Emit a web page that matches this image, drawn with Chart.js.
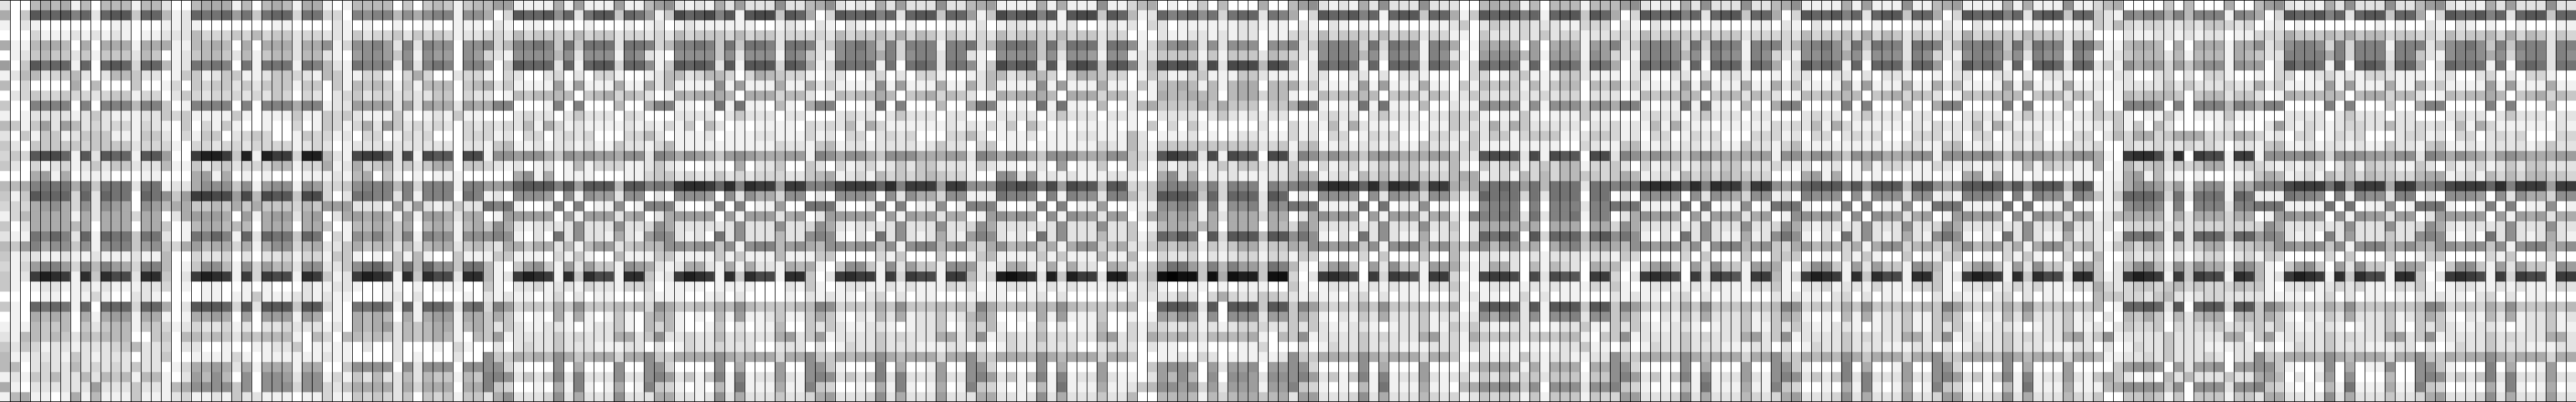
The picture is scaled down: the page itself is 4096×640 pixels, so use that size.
<!DOCTYPE html>
<html>
<head>
<meta charset="utf-8">
<style>
  html, body { margin: 0; padding: 0; background: #fff; overflow: hidden; }
  canvas { display: block; }
</style>
<script src="https://cdn.jsdelivr.net/npm/chart.js@4/dist/chart.umd.js"></script>
</head>
<body>
<canvas id="heat" width="4096" height="640"></canvas>
<script>
// cell values, one digit per cell (base 36, 0 = lightest),
// 40 rows in each block, 32 columns per block, spaces only to keep the columns readable
const block0 = [
"200 5656 1 5 0 555 1 55 200 5666 1 5 0 565 1 66",
"604 cbbc 9 b 2 bcc 4 bb 512 baab 7 a 4 abb 3 aa",
"102 1000 0 0 0 011 0 00 112 1000 0 0 0 011 0 00",
"000 3111 2 1 2 121 0 11 222 5333 4 3 5 344 2 33",
"611 5665 0 6 0 666 1 66 611 5565 0 6 0 666 2 66",
"012 4544 2 4 1 444 2 54 012 4554 2 5 1 455 2 55",
"704 cabb 1 b 0 bcb 3 bb 512 a9a9 0 a 1 aaa 1 a9",
"125 5234 5 2 0 255 4 22 014 4124 4 1 1 244 3 21",
"503 0000 6 0 5 000 4 00 130 4344 2 4 2 444 1 44",
"023 4334 3 3 2 344 1 33 024 3233 3 2 3 243 0 32",
"400 9999 0 9 0 999 5 99 401 9999 0 9 0 999 6 99",
"101 2222 1 2 4 211 1 22 434 1111 4 1 0 111 4 11",
"541 4727 5 2 3 233 1 32 104 0314 1 0 0 100 3 01",
"204 1441 2 4 4 411 1 44 203 1440 2 3 4 300 1 43",
"420 4444 4 3 4 444 2 33 310 3323 3 2 3 333 1 23",
"343 cddb 1 c 2 cbb 1 cc 700 egge 4 g 1 gee 3 gg",
"420 3123 1 2 4 244 2 22 511 4234 2 3 3 355 1 33",
"000 6716 0 1 1 100 0 11 000 6716 0 1 0 100 0 11",
"556 9aaa 6 a 4 aaa 2 aa 122 6888 4 8 1 788 1 87",
"414 cbbb 3 b 2 baa 0 ba 847 eedd 7 d 5 dcc 4 dd",
"333 6786 3 8 2 876 0 87 566 4454 6 4 6 444 3 54",
"135 6666 1 6 2 666 3 66 026 7776 0 7 1 677 2 67",
"402 6666 5 6 0 666 0 66 401 5665 5 5 0 666 0 66",
"211 a9b9 2 b 1 baa 4 aa 201 a9b9 1 b 2 baa 4 ba",
"547 9688 4 8 1 899 4 78 436 7566 3 6 1 688 3 56",
"412 2112 1 1 2 111 2 11 500 3223 0 2 0 223 1 33",
"313 7997 3 9 5 976 3 99 501 4885 1 8 3 755 2 88",
"412 egfe 1 f 4 fdd 2 ff 402 egfe 1 e 3 edd 1 fe",
"410 1221 1 2 1 211 1 22 301 0110 0 1 0 100 0 21",
"000 0110 1 1 3 100 2 21 000 0110 1 1 4 111 2 21",
"410 baba 1 b 0 bbb 3 bb 602 cccb 3 c 2 ccc 4 cc",
"010 6565 0 6 1 677 1 66 101 6676 0 7 0 777 1 76",
"111 5445 0 4 2 455 1 44 312 3223 1 2 0 223 2 22",
"215 5454 2 5 4 555 0 04 405 5454 2 5 4 555 1 05",
"424 3122 1 2 2 234 5 22 302 2001 0 0 1 122 4 01",
"511 2221 4 2 1 222 0 22 400 1111 3 1 0 111 1 11",
"550 2322 5 2 3 232 4 22 013 6676 2 6 1 666 1 66",
"121 4352 2 5 2 545 1 55 102 7585 0 8 0 887 2 88",
"610 2222 2 2 7 222 4 22 156 8888 4 8 0 888 3 88",
"156 1101 6 1 5 111 4 11 123 1121 4 2 2 111 0 11"
];
const block1 = [
"101 5555 0 4 0 454 1 45 577 1111 6 1 7 111 7 11",
"330 9899 5 8 6 899 1 88 603 cbbc 8 b 2 acc 4 ba",
"021 0100 1 0 0 100 1 11 021 0110 1 0 0 100 0 10",
"221 4233 4 2 4 343 1 22 332 5344 4 3 5 344 2 33",
"813 8897 2 9 2 988 0 88 935 99a9 4 a 4 aaa 2 aa",
"210 7887 4 8 1 877 0 87 321 8888 5 8 2 888 1 98",
"521 a999 1 9 2 9a9 0 99 704 cbbb 2 b 1 bcc 3 bb",
"541 1331 0 3 6 300 2 33 103 2002 3 0 2 033 1 00",
"041 5454 1 4 1 555 0 45 624 1111 7 1 7 111 6 11",
"023 4233 2 3 2 244 0 32 201 5455 5 5 0 456 3 54",
"122 7777 2 7 2 766 2 76 699 0001 9 0 9 000 5 00",
"434 2111 4 1 0 121 4 11 000 2322 0 2 4 222 0 32",
"431 3627 4 2 3 232 0 32 323 2516 3 1 2 111 1 21",
"312 0330 1 3 2 300 0 33 312 0330 2 3 2 300 0 33",
"201 2222 2 2 2 222 0 22 145 1121 2 2 1 211 4 22",
"521 deec 2 d 1 dcc 0 dd 188 7886 4 8 7 877 6 88",
"612 6345 2 4 2 466 0 44 321 2012 0 1 5 133 3 11",
"121 5604 1 0 1 011 1 00 000 6816 0 1 1 100 0 11",
"334 8999 5 9 3 999 1 99 778 bccc 9 c 7 ccc 5 cc",
"302 aa99 2 9 1 999 0 a9 120 8887 0 8 1 877 2 88",
"777 2221 7 2 7 212 4 22 a9a 1001 9 0 9 011 8 01",
"026 7676 1 7 1 776 2 66 017 7777 0 7 1 777 2 67",
"401 5565 4 6 0 565 1 56 486 2122 2 2 8 222 8 22",
"031 8796 4 9 1 988 1 88 898 1020 a 2 8 221 6 21",
"224 6455 2 5 2 566 2 45 326 6466 2 5 1 577 2 45",
"144 1010 4 1 5 100 4 11 144 1110 3 1 4 100 5 11",
"224 8ab8 4 a 5 b88 4 aa 510 4784 1 7 2 744 1 87",
"412 egfe 1 f 4 fdd 2 ff 512 egfe 1 f 4 fdd 1 ff",
"122 1001 1 0 1 011 1 00 410 2231 2 2 1 322 1 33",
"211 0001 2 0 2 000 0 10 212 1101 3 0 2 011 0 00",
"310 aaba 1 b 1 bba 2 ab 397 3443 6 4 8 444 5 45",
"010 6565 0 6 1 677 1 66 464 1010 6 1 6 101 4 10",
"120 6567 2 5 4 566 1 56 424 2112 2 1 0 122 4 10",
"305 5454 2 5 4 565 1 05 471 2222 4 2 3 222 6 62",
"111 0200 2 0 0 010 3 10 020 2322 4 2 2 211 1 22",
"211 0000 2 0 1 000 2 00 844 6565 8 6 4 566 3 66",
"004 8888 0 8 2 888 0 88 883 1000 8 0 6 000 8 00",
"131 4252 2 5 2 544 1 54 998 2424 9 2 9 222 8 22",
"324 6666 2 6 3 666 0 66 943 0010 6 1 9 101 6 01",
"311 4343 2 4 0 434 1 44 268 2223 8 2 6 222 8 22"
];
const block2 = [
"578 2121 6 2 7 222 8 22 568 2121 6 2 7 222 8 22",
"714 dbcd 9 c 1 cdd 4 cb 603 cbbc 9 b 2 bcc 4 bb",
"120 1211 1 1 1 100 1 21 021 0210 1 0 0 100 0 11",
"232 5344 4 3 5 344 2 33 332 5344 5 3 6 354 2 43",
"935 99a9 4 a 4 aa9 2 aa 924 89a8 4 9 3 999 1 99",
"210 8888 4 8 2 888 1 98 421 8998 6 9 3 899 2 99",
"814 cbcb 2 c 1 ccc 3 cb 613 baaa 1 a 0 aba 2 aa",
"125 5235 5 3 0 365 4 33 102 2002 3 0 2 033 1 00",
"625 1111 8 1 7 111 6 11 624 1111 8 1 7 111 6 11",
"201 6566 6 5 0 666 3 55 201 5455 6 5 0 456 3 54",
"699 1101 a 1 a 110 5 10 699 0001 a 0 9 000 5 00",
"000 2222 0 2 4 222 0 22 000 2322 0 2 4 222 0 22",
"213 1405 2 0 1 011 1 10 323 2516 3 1 1 111 1 21",
"520 1112 0 1 1 122 1 11 312 0330 2 3 2 300 0 33",
"135 1111 1 1 1 111 3 22 145 1221 2 2 2 212 4 22",
"298 6876 4 7 8 766 6 77 198 6886 4 8 8 866 6 77",
"242 1001 1 0 6 022 4 00 420 3123 1 2 4 244 2 22",
"344 2322 4 2 3 233 3 22 456 1231 5 3 4 345 4 33",
"9a9 effe b f 9 fee 7 ee 99a deee b f 9 eee 7 ee",
"020 8887 0 8 2 866 3 88 020 8887 0 8 2 866 3 88",
"999 1001 9 0 9 011 7 00 aaa 1001 9 0 9 011 8 01",
"026 7777 0 7 1 777 2 67 027 7777 0 7 1 767 2 66",
"386 2222 2 2 8 222 8 22 386 2122 2 2 8 222 8 22",
"798 2120 a 2 8 222 5 22 898 1020 a 2 8 212 6 21",
"558 8788 4 8 1 899 5 78 658 8788 4 8 1 899 5 78",
"144 1111 4 1 4 111 5 11 144 0000 3 1 4 000 4 00",
"621 2662 1 6 1 622 1 65 610 4884 1 8 2 744 1 88",
"412 egfe 1 f 4 fdd 1 ff 402 efee 1 e 3 edd 1 ee",
"301 1110 1 1 1 100 0 21 410 1221 1 2 1 211 1 32",
"211 1001 2 0 2 000 0 10 212 1102 3 0 2 011 0 00",
"386 4454 6 5 8 544 4 45 598 3443 6 4 8 444 5 45",
"565 1010 5 1 7 112 4 11 464 1021 5 2 6 122 4 12",
"535 1001 4 0 2 011 5 00 424 2112 2 1 0 122 4 01",
"482 2322 5 2 3 222 6 72 471 2222 4 2 3 222 6 62",
"020 1322 3 2 2 200 2 22 020 1322 4 2 2 211 1 22",
"844 6666 8 6 5 666 3 66 844 6566 8 6 5 666 3 66",
"883 0000 8 0 6 000 7 00 884 1000 9 0 6 001 7 00",
"897 2414 9 1 9 122 7 21 898 2424 9 2 9 222 7 22",
"943 1010 5 1 a 111 6 11 943 0010 6 1 9 101 6 01",
"266 2212 8 2 6 222 4 22 367 2223 8 2 6 222 7 22"
];
const block3 = [
"567 1111 6 1 6 111 8 11 356 0101 4 0 5 000 6 00",
"714 dbcd 9 c 1 cdd 4 cb 512 b9ab 8 a 3 abb 2 a9",
"120 1221 2 1 1 200 1 21 203 2011 1 1 1 122 1 11",
"232 5344 4 3 5 344 2 33 010 2112 2 1 2 122 0 11",
"a35 9aa9 4 a 4 aaa 2 aa 813 6897 2 8 2 888 0 88",
"210 8888 4 8 2 887 1 88 122 4444 1 4 1 444 2 54",
"814 dbcc 2 c 1 cdc 4 cc 925 dcdc 3 d 2 ddd 5 dc",
"125 5235 5 3 0 365 4 33 014 3113 4 1 1 144 2 11",
"625 1111 8 1 7 111 6 11 041 5565 1 5 1 566 0 55",
"201 6566 6 5 0 666 3 55 201 6556 5 5 0 566 3 55",
"6a9 1010 a 1 a 110 5 00 256 4444 6 4 6 444 0 44",
"000 2222 0 2 4 222 0 22 100 2222 0 2 4 212 1 22",
"213 1405 2 0 1 011 1 10 104 0304 1 0 0 000 2 00",
"520 1112 0 1 1 122 1 11 520 1112 0 1 0 122 1 11",
"034 0110 1 1 1 111 3 21 521 4444 4 4 4 444 2 34",
"298 6886 4 8 8 866 6 88 432 cedc 2 d 1 dcc 0 dd",
"142 1101 2 0 7 011 4 00 420 3123 1 2 4 244 2 22",
"100 8827 1 2 1 211 1 22 100 6826 0 2 1 211 1 22",
"888 ccdc 9 d 7 dcc 5 cc 334 8998 5 9 3 999 1 98",
"111 a998 0 9 1 988 2 99 524 cccb 4 b 3 bbb 2 cb",
"999 1001 9 0 9 011 7 00 111 8898 1 9 1 889 2 98",
"017 8787 0 8 1 877 2 77 026 7676 1 6 2 666 3 66",
"386 2222 2 2 8 222 8 22 401 5665 5 6 0 666 0 65",
"798 2120 a 2 8 222 5 22 413 baca 0 c 3 ccc 5 cc",
"436 8567 3 6 1 688 3 56 224 5455 1 4 2 466 2 44",
"145 1111 4 1 4 111 5 11 500 3223 0 2 1 233 1 33",
"721 2662 1 6 1 622 0 65 224 7aa7 4 9 5 977 4 a9",
"523 ghgf 2 g 4 gee 2 gg 635 hihh 4 h 6 hgg 4 hh",
"301 1221 1 2 1 211 1 22 123 1001 1 0 1 011 1 00",
"111 1001 2 0 2 000 0 10 222 2242 0 3 6 322 4 43",
"396 4454 6 5 8 544 4 45 500 bccb 2 c 0 ccc 4 cc",
"575 0010 6 1 7 111 4 00 101 7687 1 8 0 888 2 77",
"435 1001 4 0 2 011 5 00 313 3223 1 2 1 233 3 22",
"481 2322 5 2 3 222 6 72 316 5564 2 5 5 556 1 05",
"020 1322 3 2 2 200 2 22 202 1100 1 0 0 011 3 00",
"844 6665 8 6 5 666 3 66 400 1121 3 2 0 111 1 12",
"883 0000 8 0 6 000 7 00 004 7887 0 7 2 778 0 77",
"897 2414 9 1 9 122 7 21 102 7585 0 8 0 887 2 88",
"943 1010 5 1 a 111 6 11 245 8878 3 7 2 777 1 77",
"266 2212 8 2 6 222 4 22 500 5565 1 5 3 566 4 56"
];
const block4 = [
"578 2121 6 2 8 222 8 22 200 5656 1 5 0 555 1 55",
"603 cbbc 9 b 1 bcc 4 bb 614 cbcc 9 b 1 bcc 4 cb",
"021 0210 1 0 0 100 0 11 240 2432 3 2 2 211 3 33",
"332 5344 4 3 5 344 2 33 110 4222 3 2 4 233 1 22",
"924 8998 3 a 3 a99 1 99 601 6676 0 7 0 676 1 77",
"321 8998 5 8 2 988 1 98 210 7888 5 7 1 777 1 87",
"602 baba 1 b 0 bbb 2 ba 603 baba 1 b 0 aba 2 ba",
"102 2002 2 0 2 022 1 00 003 3013 4 1 1 144 2 11",
"624 1111 7 1 7 111 6 11 041 5454 1 5 1 455 0 54",
"101 5455 5 5 0 455 2 54 124 3223 2 2 3 233 0 22",
"6a9 1011 a 1 a 110 5 00 211 8888 1 8 1 888 4 88",
"000 2322 0 2 4 222 0 22 434 1011 4 1 0 111 4 11",
"312 1516 2 1 1 011 1 11 432 2626 4 2 2 222 0 22",
"312 0330 1 3 2 300 0 33 214 2441 3 4 4 411 2 44",
"145 1121 2 2 1 211 4 22 134 1111 1 1 1 100 3 21",
"298 6876 4 7 8 766 6 77 532 cddc 2 d 1 dcc 0 dd",
"420 3123 1 2 4 244 2 22 510 4234 1 3 4 355 1 33",
"465 1231 5 3 5 354 4 33 566 1231 5 3 5 355 4 43",
"9a9 effe b f 9 fee 7 ee 656 9aba 7 a 5 aaa 2 aa",
"020 8887 0 8 2 876 3 88 413 baaa 3 a 2 aaa 0 aa",
"aaa 1111 a 0 a 011 8 01 000 8999 0 9 0 999 2 99",
"026 8787 0 7 1 777 2 67 219 99a9 2 a 2 99a 1 99",
"386 2222 2 2 8 222 8 22 402 6666 5 6 0 666 0 66",
"8a8 1020 a 2 8 211 6 12 302 baca 0 c 3 bbb 5 bc",
"658 8788 4 8 1 899 5 78 547 8578 4 6 0 689 4 67",
"143 0000 3 0 4 000 4 00 510 2212 0 2 1 222 1 22",
"510 4784 0 7 2 844 1 77 621 2662 0 5 1 532 0 65",
"302 efed 0 e 3 edc 1 ee 301 deed 0 d 2 dcc 0 ee",
"410 1221 1 2 1 211 1 32 410 1221 1 2 1 211 1 32",
"212 1102 3 0 2 011 0 00 212 1101 3 0 2 011 0 00",
"497 4343 6 4 8 444 5 44 601 bccb 2 c 1 ccc 4 cc",
"464 1021 4 2 6 222 4 12 212 8698 2 8 1 889 2 88",
"424 2112 2 1 0 122 4 11 424 2112 2 1 0 122 4 11",
"481 2222 4 2 3 222 6 72 316 4454 2 4 4 455 1 04",
"020 1322 4 2 2 211 1 22 313 2011 0 1 0 122 4 11",
"844 6665 8 6 5 666 3 66 400 2121 4 2 1 221 1 22",
"883 0000 8 0 6 000 7 00 014 6776 1 6 1 666 0 66",
"897 2414 9 1 9 122 7 21 231 4252 3 4 2 444 1 44",
"943 1010 5 1 a 111 6 11 056 8898 4 8 0 888 2 88",
"277 2223 8 2 6 222 5 32 312 4343 1 4 1 444 1 43"
];
const block5 = [
"578 2121 6 2 8 222 8 22 568 1111 6 1 7 111 8 11",
"603 cbbc 9 b 2 bcc 4 bb 603 cbbc 9 b 2 bcc 4 bb",
"021 0210 1 0 0 100 0 11 021 0210 1 0 0 100 0 11",
"332 5344 4 3 5 344 2 33 332 5344 5 3 6 354 2 43",
"924 8998 3 a 3 a99 1 99 935 89a8 4 a 4 a99 2 aa",
"321 8998 5 8 2 988 1 98 321 8898 6 8 2 888 2 98",
"602 baba 1 b 0 bbb 2 ba 603 caba 1 b 0 bbb 3 bb",
"102 2002 2 0 2 022 1 00 102 2002 2 0 2 022 1 00",
"624 1111 7 1 7 111 6 11 625 1111 7 1 7 111 6 11",
"201 5455 5 5 0 455 2 54 201 5455 5 5 0 456 3 54",
"6a9 1011 a 1 a 110 5 00 699 0000 9 0 9 000 5 00",
"000 2322 0 2 4 222 0 22 000 2322 0 2 4 222 0 22",
"312 1516 2 1 1 011 1 11 323 2516 3 1 1 111 1 21",
"312 0330 1 3 2 300 0 33 312 0330 2 3 2 300 0 33",
"145 1121 2 2 1 211 4 22 135 1111 1 1 1 111 3 21",
"298 6876 4 7 8 766 6 77 188 6886 4 8 7 866 6 88",
"420 3123 1 2 4 244 2 22 321 2012 0 1 5 133 2 11",
"465 1231 5 3 5 354 4 33 000 6716 0 1 0 100 0 11",
"9a9 effe b f 9 fee 7 ee 878 bccc 9 c 7 ccc 5 cc",
"020 8887 0 8 2 876 3 88 120 9888 0 8 1 888 2 88",
"aaa 1111 a 0 a 011 8 01 aaa 1001 9 0 9 011 8 01",
"026 8787 0 7 1 777 2 67 018 8787 0 8 0 877 2 67",
"386 2222 2 2 8 222 8 22 386 2122 2 2 8 222 8 22",
"8a8 1020 a 2 8 211 6 12 8a8 1020 a 2 8 212 6 21",
"658 8788 4 8 1 899 5 78 436 7566 3 6 1 688 3 56",
"143 0000 3 0 4 000 4 00 444 0010 3 1 4 100 4 01",
"510 4784 0 7 2 844 1 77 610 4884 1 7 2 744 1 87",
"302 efed 0 e 3 edc 1 ee 513 egfe 1 f 4 fdd 1 ff",
"410 1221 1 2 1 211 1 32 410 2231 2 2 1 311 1 33",
"212 1102 3 0 2 011 0 00 212 1102 3 0 2 011 0 00",
"497 4343 6 4 8 444 5 44 598 3443 6 4 8 444 5 45",
"464 1021 4 2 6 222 4 12 465 1010 5 1 6 122 4 11",
"424 2112 2 1 0 122 4 11 424 2112 2 1 0 122 4 11",
"481 2222 4 2 3 222 6 72 481 2222 4 2 3 222 6 62",
"020 1322 4 2 2 211 1 22 020 1322 4 2 2 211 1 22",
"844 6665 8 6 5 666 3 66 844 6565 8 6 4 666 3 66",
"883 0000 8 0 6 000 7 00 884 1000 9 0 6 001 7 00",
"897 2414 9 1 9 122 7 21 898 2424 9 2 9 222 7 22",
"943 1010 5 1 a 111 6 11 943 0010 6 1 9 101 6 01",
"377 2223 8 2 6 222 5 32 367 2223 8 2 6 222 7 22"
];
const block6 = [
"567 1111 6 1 6 111 8 11 356 0000 4 0 5 000 6 00",
"603 cbbc 9 b 2 bcc 4 bb 421 9899 6 9 5 999 1 98",
"021 0210 1 0 0 100 0 11 425 3233 2 2 3 244 3 23",
"332 6344 4 3 5 444 2 33 000 2112 2 1 2 122 0 11",
"925 99a9 4 a 4 a99 2 aa 611 5665 0 6 0 666 1 66",
"321 8998 5 8 2 988 1 98 012 4555 2 5 1 555 1 65",
"703 caba 1 b 0 bcb 3 bb 241 8677 3 7 4 788 1 87",
"102 2002 2 0 2 022 1 00 102 2002 3 0 2 033 1 00",
"625 1111 7 1 7 111 6 11 211 2222 4 2 4 222 3 22",
"201 5455 5 5 0 455 2 54 101 5455 5 4 0 455 2 44",
"699 0000 9 0 9 000 4 00 400 9998 0 9 0 999 5 98",
"000 2322 0 2 4 222 0 22 434 1011 4 1 0 111 4 11",
"322 2516 3 1 1 111 1 11 214 1405 2 0 0 001 2 00",
"312 0330 1 3 2 300 0 33 025 3663 4 6 6 633 3 65",
"145 1121 1 2 1 211 3 22 300 3223 2 2 3 232 0 22",
"188 8897 4 8 7 876 6 88 610 effd 3 f 0 edd 1 ee",
"321 2112 0 1 5 143 3 11 601 5345 2 4 3 466 1 34",
"010 6716 0 1 0 100 0 11 011 6715 1 1 0 100 0 11",
"878 ccdc 9 c 7 ccc 5 cc 112 6887 4 7 1 788 1 76",
"121 9998 0 9 1 988 2 98 414 bbba 3 a 2 aaa 1 ba",
"aaa 1111 a 0 a 011 8 01 011 8998 1 9 0 999 2 99",
"017 8787 0 8 1 877 2 77 125 6666 1 6 2 666 3 66",
"386 2222 2 2 8 222 8 22 220 3333 2 3 2 333 3 33",
"8a8 1020 a 2 8 211 6 12 202 aab9 1 b 2 bbb 4 bb",
"436 8567 3 6 1 688 3 56 214 5355 1 4 2 466 1 44",
"144 0010 3 1 4 100 4 01 500 3223 0 2 0 233 0 23",
"510 4784 1 7 2 844 1 77 402 5895 2 8 4 866 2 98",
"412 egfe 1 f 4 fdd 2 ff 412 egfe 1 e 4 edd 1 fe",
"410 2231 2 3 2 311 1 32 632 3443 4 5 3 433 3 54",
"212 1102 3 0 2 011 0 00 544 3324 5 2 1 233 2 22",
"497 4343 6 4 8 444 5 44 501 bbcb 2 c 0 bcc 3 cc",
"464 1021 5 2 6 222 4 12 020 5464 1 5 2 566 0 55",
"424 2112 2 1 0 122 4 11 202 4334 0 3 2 334 2 33",
"481 2222 4 2 3 222 6 72 481 2222 4 2 2 222 6 61",
"020 1322 4 2 2 211 1 22 020 1322 4 2 2 211 1 22",
"844 6665 8 6 5 666 3 66 511 2232 4 2 2 232 0 22",
"883 0000 8 0 6 000 7 00 004 7887 0 7 2 778 0 77",
"897 2414 9 1 9 122 7 21 464 2020 5 2 5 222 4 22",
"943 1010 5 1 a 111 6 11 156 8888 4 8 0 888 2 88",
"377 2223 8 2 6 222 5 32 400 4454 1 4 0 444 1 44"
];
const block7 = [
"578 2121 6 2 8 222 8 22 578 2121 6 2 7 222 8 22",
"603 cbbc 9 b 2 bcc 4 bb 603 cbbc 9 b 2 bcc 4 bb",
"012 0100 0 0 0 001 0 10 021 0210 1 0 0 100 0 11",
"333 6444 5 4 6 455 3 44 332 5344 5 3 6 354 2 43",
"824 8998 3 9 3 999 1 99 925 89a8 4 9 4 999 2 99",
"422 9999 6 9 3 999 2 99 421 8998 6 8 3 899 2 98",
"703 caba 1 b 0 bcb 3 bb 603 baaa 1 a 0 aba 2 aa",
"103 3012 3 1 2 133 2 11 102 2002 3 0 2 033 1 00",
"624 1111 7 1 7 111 6 11 624 1111 7 1 7 111 6 11",
"201 6555 5 5 0 566 3 55 201 5455 6 5 0 456 3 54",
"699 0000 9 0 9 000 4 00 699 0000 9 0 9 000 5 00",
"000 2222 0 2 4 222 0 22 000 2322 0 2 4 222 0 22",
"027 2132 1 2 3 322 5 22 323 1516 3 1 1 111 1 21",
"312 0330 1 3 2 300 0 23 312 0330 2 3 2 300 0 33",
"145 1121 2 2 1 211 4 22 145 1121 2 2 2 212 4 22",
"188 8897 3 8 8 877 6 88 298 6876 4 7 8 766 6 77",
"321 2122 0 2 5 143 3 11 420 3123 1 2 4 244 2 22",
"465 1231 5 3 5 354 4 33 566 1231 5 3 5 355 4 43",
"999 deee a e 8 eee 6 ee 99a deee b f 9 eee 7 ee",
"111 a998 0 9 1 988 2 99 020 8887 0 8 2 866 3 88",
"aaa 1111 a 0 a 011 8 01 aaa 1001 9 0 9 011 8 01",
"017 8787 0 8 1 877 2 77 027 7777 0 7 1 767 2 66",
"386 2222 2 2 8 222 8 22 386 2122 2 2 8 222 8 22",
"798 2120 9 2 7 222 4 22 898 1020 a 2 8 212 6 21",
"558 8788 4 8 1 899 5 78 658 8788 4 8 1 899 5 78",
"143 0000 3 0 4 000 4 00 144 0000 3 1 4 000 4 00",
"510 4784 0 7 2 844 1 77 610 4884 1 7 2 744 1 87",
"512 egfe 1 f 4 fdd 1 ff 402 efed 1 e 3 edd 1 ee",
"410 2231 2 3 2 311 1 32 410 1221 1 2 1 211 1 32",
"211 1101 3 0 2 011 0 10 212 1102 3 0 2 011 0 00",
"497 4343 6 4 8 444 5 44 598 3443 6 4 8 444 5 45",
"464 1021 4 2 6 222 4 12 464 1021 5 2 6 122 4 12",
"424 2112 2 1 0 122 4 10 424 2112 2 1 0 122 4 11",
"471 2222 4 2 3 222 6 72 481 2222 4 2 3 222 6 62",
"020 1322 4 2 2 211 1 22 020 1322 4 2 2 211 1 22",
"844 6665 8 6 5 666 3 66 844 6566 8 6 5 666 3 66",
"884 1001 8 0 6 011 8 00 884 1000 9 0 6 001 7 00",
"675 0202 7 0 8 000 5 00 898 2424 9 2 9 222 7 22",
"943 1010 5 1 a 111 6 11 943 0010 6 1 9 101 6 01",
"266 2212 8 2 6 222 4 22 367 2223 8 2 6 222 7 22"
];

const blocks = [block0, block1, block2, block3, block4, block5, block6, block7];
const rowCount = 40;
const colCount = 256;

// one number per cell, left to right through the blocks
function rowValues(r) {
  const out = [];
  blocks.forEach(function (b) {
    const s = b[r].replace(/\s/g, '');
    for (let i = 0; i < 32; i++) out.push(parseInt(s[i] || '0', 36) || 0);
  });
  return out;
}

function grey(v) {
  const g = Math.max(0, 255 - v * 14);
  return 'rgb(' + g + ',' + g + ',' + g + ')';
}

const labels = [];
for (let i = 0; i < colCount; i++) labels.push(String(i));

const datasets = [];
for (let r = 0; r < rowCount; r++) {
  const vals = rowValues(r);
  datasets.push({
    data: vals.map(function () { return [r, r + 1]; }),
    backgroundColor: vals.map(grey),
    borderWidth: 0,
    borderSkipped: false,
    barPercentage: 1,
    categoryPercentage: 1,
    grouped: false
  });
}

new Chart(document.getElementById('heat').getContext('2d'), {
  type: 'bar',
  data: { labels: labels, datasets: datasets },
  options: {
    responsive: false,
    animation: false,
    events: [],
    layout: { padding: 0 },
    plugins: { legend: { display: false }, tooltip: { enabled: false }, title: { display: false } },
    scales: {
      x: {
        type: 'category',
        offset: true,
        border: { display: false },
        ticks: { display: false, autoSkip: false, maxRotation: 0 },
        grid: {
          z: 1,
          offset: true,
          drawTicks: false,
          lineWidth: 1,
          color: function (ctx) { return ctx.index === 0 ? 'rgba(0,0,0,0)' : '#000'; }
        }
      },
      y: {
        reverse: true,
        min: 0,
        max: rowCount,
        border: { display: false },
        // only the top and bottom edge get a rule
        afterBuildTicks: function (axis) { axis.ticks = [{ value: 0 }, { value: rowCount - 0.04 }]; },
        ticks: { display: false },
        grid: { z: 1, drawTicks: false, lineWidth: 1, color: '#000' }
      }
    }
  }
});
</script>
</body>
</html>
